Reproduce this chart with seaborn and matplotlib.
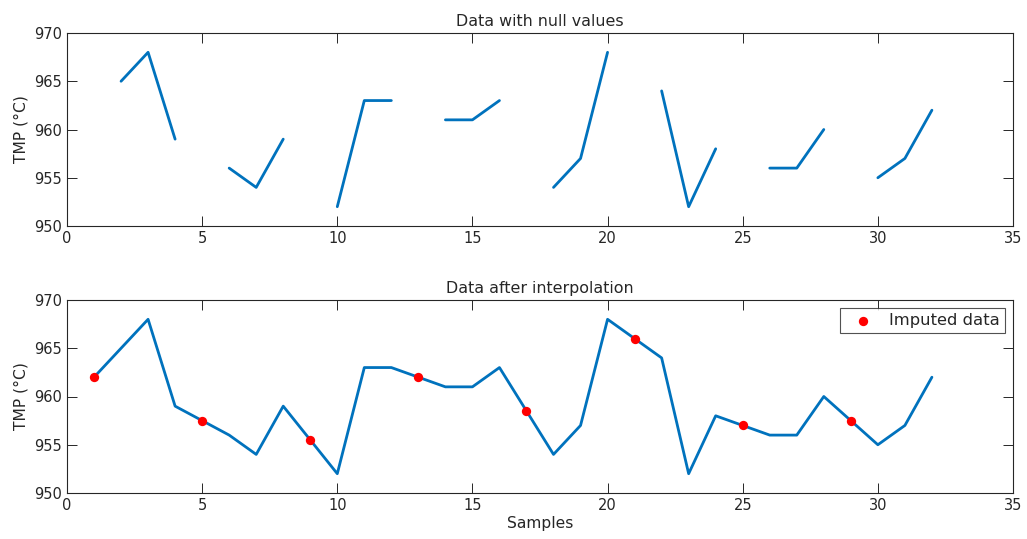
import numpy as np
import pandas as pd
import matplotlib
matplotlib.use("Agg")
import matplotlib.pyplot as plt
import seaborn as sns

# MATLAB-like look
sns.set_theme(style="white")
plt.rcParams['font.family'] = ['DejaVu Sans']
plt.rcParams['axes.edgecolor'] = '#262626'
plt.rcParams['text.color'] = '#262626'
plt.rcParams['axes.labelcolor'] = '#262626'
plt.rcParams['xtick.color'] = '#262626'
plt.rcParams['ytick.color'] = '#262626'

# data
samples = list(range(1, 33))
tmp_raw = [np.nan, 965, 968, 959, np.nan, 956, 954, 959,
           np.nan, 952, 963, 963, np.nan, 961, 961, 963,
           np.nan, 954, 957, 968, np.nan, 964, 952, 958,
           np.nan, 956, 956, 960, np.nan, 955, 957, 962]
tmp_filled = [962, 965, 968, 959, 957.5, 956, 954, 959,
              955.5, 952, 963, 963, 962, 961, 961, 963,
              958.5, 954, 957, 968, 966, 964, 952, 958,
              957, 956, 956, 960, 957.5, 955, 957, 962]
imputed_x = [1, 5, 9, 13, 17, 21, 25, 29]
imputed_y = [962, 957.5, 955.5, 962, 958.5, 966, 957, 957.5]

line_color = "#0072BD"

df_raw = pd.DataFrame({"Samples": samples, "TMP": tmp_raw})
# split into runs of non-null values so the line breaks at gaps
df_raw["seg"] = df_raw["TMP"].isna().cumsum()
df_raw = df_raw.dropna()
df_fill = pd.DataFrame({"Samples": samples, "TMP": tmp_filled})
df_imp = pd.DataFrame({"Samples": imputed_x, "TMP": imputed_y})

fig = plt.figure(figsize=(10.27, 5.39), dpi=100)
ax1 = fig.add_axes([67 / 1027, 1 - 226 / 539, 946 / 1027, 193 / 539])
ax2 = fig.add_axes([67 / 1027, 1 - 493 / 539, 946 / 1027, 193 / 539])

sns.lineplot(data=df_raw, x="Samples", y="TMP", units="seg", estimator=None,
             color=line_color, linewidth=2, ax=ax1)

sns.lineplot(data=df_fill, x="Samples", y="TMP", color=line_color,
             linewidth=2, ax=ax2, legend=False)
sns.scatterplot(data=df_imp, x="Samples", y="TMP", color="red", s=45,
                edgecolor="red", linewidth=0, ax=ax2, label="Imputed data",
                zorder=3)

for ax, title in [(ax1, "Data with null values"), (ax2, "Data after interpolation")]:
    ax.set_xlim(0, 35)
    ax.set_ylim(950, 970)
    ax.set_xticks([0, 5, 10, 15, 20, 25, 30, 35])
    ax.set_yticks([950, 955, 960, 965, 970])
    ax.set_title(title, fontsize=11.4, pad=5)
    ax.set_ylabel("TMP (°C)", fontsize=11.2)
    ax.tick_params(direction="in", length=7, width=0.7, labelsize=10.5,
                   top=True, right=True, bottom=True, left=True)
    for s in ax.spines.values():
        s.set_linewidth(0.8)
        s.set_color('#262626')

ax1.set_xlabel("")
ax2.set_xlabel("Samples", fontsize=11.2, labelpad=2)

leg = ax2.legend(loc="upper right", fontsize=11.8, frameon=True, fancybox=False,
                 handletextpad=0.5, borderpad=0.3, borderaxespad=0.5,
                 handlelength=2.2)
leg.get_frame().set_edgecolor('#262626')
leg.get_frame().set_linewidth(0.8)

fig.savefig("out.png", dpi=100)
